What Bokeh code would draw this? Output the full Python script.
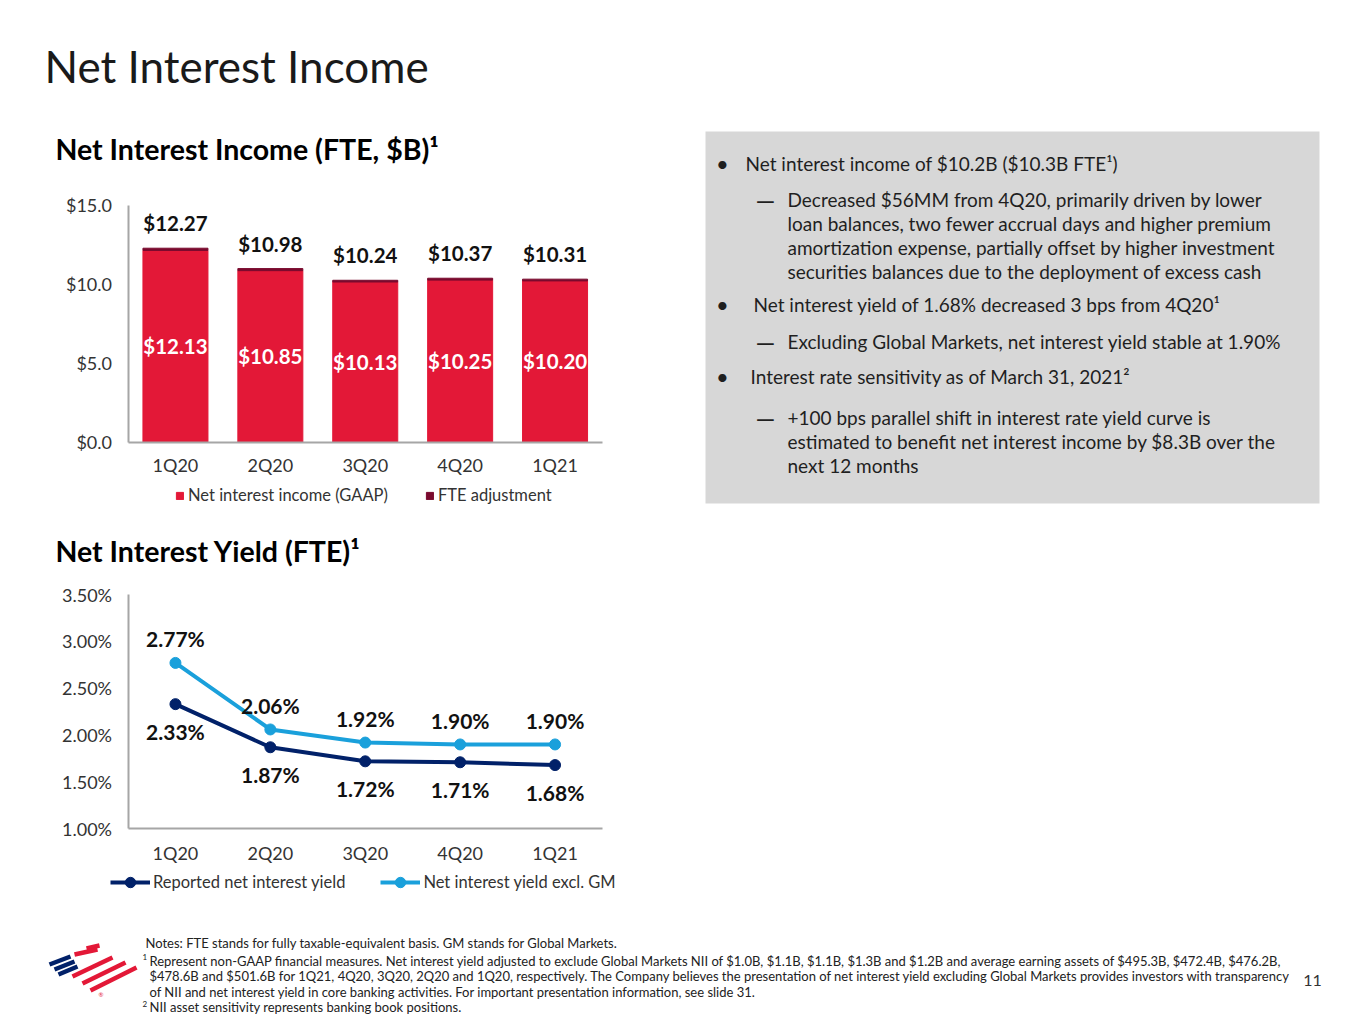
from bokeh.plotting import figure
from bokeh.models import (ColumnDataSource, Range1d, FixedTicker, Legend, LegendItem,
                          LinearAxis)
from bokeh.embed import file_html
from bokeh.resources import INLINE
from bokeh.core.properties import value

# ---------------- data ----------------
quarters = ["1Q20", "2Q20", "3Q20", "4Q20", "1Q21"]
nii_gaap = [12.13, 10.85, 10.13, 10.25, 10.20]
fte_adjustment = [0.14, 0.13, 0.11, 0.12, 0.11]
nii_fte_total = [12.27, 10.98, 10.24, 10.37, 10.31]
bar_ticks = [0, 5, 10, 15]
bar_tick_labels = ["$0.0", "$5.0", "$10.0", "$15.0"]

yield_reported = [2.33, 1.87, 1.72, 1.71, 1.68]
yield_excl_gm = [2.77, 2.06, 1.92, 1.90, 1.90]
yield_ticks = [1.0, 1.5, 2.0, 2.5, 3.0, 3.5]
yield_tick_labels = ["1.00%", "1.50%", "2.00%", "2.50%", "3.00%", "3.50%"]

box_lines = [
    ("•", "b1", "Net interest income of $10.2B ($10.3B FTE¹)"),
    ("—", "d", "Decreased $56MM from 4Q20, primarily driven by lower"),
    ("", "d", "loan balances, two fewer accrual days and higher premium"),
    ("", "d", "amortization expense, partially offset by higher investment"),
    ("", "d", "securities balances due to the deployment of excess cash"),
    ("•", "b2", "Net interest yield of 1.68% decreased 3 bps from 4Q20¹"),
    ("—", "d", "Excluding Global Markets, net interest yield stable at 1.90%"),
    ("•", "b3", "Interest rate sensitivity as of March 31, 2021²"),
    ("—", "d", "+100 bps parallel shift in interest rate yield curve is"),
    ("", "d", "estimated to benefit net interest income by $8.3B over the"),
    ("", "d", "next 12 months"),
]

notes_lines = [
    "Notes: FTE stands for fully taxable-equivalent basis. GM stands for Global Markets.",
    "Represent non-GAAP financial measures. Net interest yield adjusted to exclude Global Markets NII of $1.0B, $1.1B, $1.1B, $1.3B and $1.2B and average earning assets of $495.3B, $472.4B, $476.2B,",
    "$478.6B and $501.6B for 1Q21, 4Q20, 3Q20, 2Q20 and 1Q20, respectively. The Company believes the presentation of net interest yield excluding Global Markets provides investors with transparency",
    "of NII and net interest yield in core banking activities. For important presentation information, see slide 31.",
    "NII asset sensitivity represents banking book positions.",
]

# ---------------- style ----------------
FONT = "Lato"
RED = "#E31837"
MAROON = "#7A0A2E"
NAVY = "#012169"
LIGHT = "#1AA0DB"
AXIS = "#A6A6A6"
TICK = "#333333"
DARK = "#111111"
BODY = "#1f1f1f"
BOX = "#D7D7D7"

W, H = 1363, 1020

p = figure(width=W, height=H, x_range=Range1d(0, W), y_range=Range1d(H, 0),
           x_axis_location=None, y_axis_location=None, toolbar_location=None,
           output_backend="svg", min_border=0)
p.grid.visible = False
p.outline_line_color = None


def xmap(px0, v0, px1, v1):
    k = (px1 - px0) / (v1 - v0)
    start = v0 - px0 / k
    return Range1d(start, start + W / k)


def ymap(py0, v0, py1, v1):
    k = (py0 - py1) / (v1 - v0)
    start = v0 - (H - py0) / k
    return Range1d(start, start + H / k)


# chart placement on the page (pixels)
p.extra_x_ranges = {"bx": xmap(127.5, -0.5, 602, 4.5), "lx": xmap(127.5, -0.5, 602, 4.5)}
p.extra_y_ranges = {"by": ymap(441.5, 0, 204.6, 15), "ly": ymap(828.3, 1.0, 594, 3.5)}


def txt(x, y, s, size, bold=False, color=DARK, align="left"):
    p.text(x=[x], y=[y], text=[s], text_font=value(FONT), text_font_size=f"{size}px",
           text_font_style="bold" if bold else "normal", text_color=color,
           text_align=align, text_baseline="middle")


def add_axes(xr, yr, xfix, yfix, yticks, ylabels, xstandoff):
    xi = list(range(len(quarters)))
    yax = LinearAxis(y_range_name=yr, fixed_location=yfix,
                     bounds=(yticks[0], yticks[-1]), ticker=FixedTicker(ticks=yticks),
                     major_label_overrides={t: l for t, l in zip(yticks, ylabels)})
    xax = LinearAxis(x_range_name=xr, fixed_location=xfix,
                     bounds=(-0.5, len(quarters) - 0.5), ticker=FixedTicker(ticks=xi),
                     major_label_overrides={i: q for i, q in zip(xi, quarters)})
    for ax in (yax, xax):
        ax.axis_line_color = AXIS
        ax.axis_line_width = 2
        ax.major_tick_line_color = None
        ax.minor_tick_line_color = None
        ax.major_tick_out = 0
        ax.major_tick_in = 0
        ax.major_label_text_font = FONT
        ax.major_label_text_font_size = "18px"
        ax.major_label_text_color = TICK
    yax.major_label_standoff = 16
    xax.major_label_standoff = xstandoff
    p.add_layout(yax, "left")
    p.add_layout(xax, "below")


# ---------------- titles ----------------
txt(44, 65, "Net Interest Income", 44, color="#1a1a1a")
txt(55, 148, "Net Interest Income (FTE, $B)¹", 28.5, bold=True, color="#000000")
txt(55, 550, "Net Interest Yield (FTE)¹", 28.5, bold=True, color="#000000")

# ---------------- bar chart ----------------
xi = list(range(len(quarters)))
src1 = ColumnDataSource(dict(x=xi, gaap=nii_gaap, fte=fte_adjustment))
bars = p.vbar_stack(["gaap", "fte"], x="x", width=0.685, color=[RED, MAROON], source=src1,
                    x_range_name="bx", y_range_name="by")
p.text(x=xi, y=nii_fte_total, text=[f"${v:.2f}" for v in nii_fte_total],
       x_range_name="bx", y_range_name="by",
       text_font=value(FONT), text_font_size="20.5px", text_font_style="bold",
       text_color=DARK, text_align="center", text_baseline="middle", y_offset=-25)
p.text(x=xi, y=[v / 2 for v in nii_gaap], text=[f"${v:.2f}" for v in nii_gaap],
       x_range_name="bx", y_range_name="by",
       text_font=value(FONT), text_font_size="20.5px", text_font_style="bold",
       text_color="#FFFFFF", text_align="center", text_baseline="middle")
add_axes("bx", "by", 441.5, 127.5, bar_ticks, bar_tick_labels, 12)
leg1 = Legend(items=[LegendItem(label="Net interest income (GAAP)", renderers=[bars[0]]),
                     LegendItem(label="FTE adjustment", renderers=[bars[1]])],
              orientation="horizontal", location=(175, H - 505), spacing=37,
              glyph_width=9, glyph_height=9, label_standoff=4, padding=7, margin=0,
              border_line_color=None, background_fill_alpha=0,
              label_text_font=FONT, label_text_font_size="16.5px", label_text_color=TICK)
p.add_layout(leg1, "center")

# ---------------- line chart ----------------
l_rep = p.line(xi, yield_reported, line_width=4, color=NAVY, x_range_name="lx", y_range_name="ly")
s_rep = p.scatter(xi, yield_reported, size=11, color=NAVY, x_range_name="lx", y_range_name="ly")
l_gm = p.line(xi, yield_excl_gm, line_width=4, color=LIGHT, x_range_name="lx", y_range_name="ly")
s_gm = p.scatter(xi, yield_excl_gm, size=11, color=LIGHT, x_range_name="lx", y_range_name="ly")
p.text(x=xi, y=yield_excl_gm, text=[f"{v:.2f}%" for v in yield_excl_gm],
       x_range_name="lx", y_range_name="ly",
       text_font=value(FONT), text_font_size="21px", text_font_style="bold",
       text_color=DARK, text_align="center", text_baseline="middle", y_offset=-24)
p.text(x=xi, y=yield_reported, text=[f"{v:.2f}%" for v in yield_reported],
       x_range_name="lx", y_range_name="ly",
       text_font=value(FONT), text_font_size="21px", text_font_style="bold",
       text_color=DARK, text_align="center", text_baseline="middle", y_offset=27)
add_axes("lx", "ly", 828.3, 127.5, yield_ticks, yield_tick_labels, 13)
leg2 = Legend(items=[LegendItem(label="Reported net interest yield", renderers=[l_rep, s_rep]),
                     LegendItem(label="Net interest yield excl. GM", renderers=[l_gm, s_gm])],
              orientation="horizontal", location=(110, H - 895), spacing=35,
              glyph_width=40, glyph_height=26, label_standoff=3, padding=4, margin=0,
              border_line_color=None, background_fill_alpha=0,
              label_text_font=FONT, label_text_font_size="16.5px", label_text_color=TICK)
p.add_layout(leg2, "center")

# ---------------- right text box ----------------
p.quad(left=[705], right=[1319], top=[131], bottom=[503], fill_color=BOX, line_color=None)
box_y = [163, 199, 223, 247, 271, 304, 341, 376, 417, 441, 465]
text_x = {"b1": 745, "b2": 753, "b3": 750, "d": 787}
for (mark, kind, s), y in zip(box_lines, box_y):
    if mark == "•":
        txt(722, y, mark, 22, color=BODY, align="center")
    elif mark == "—":
        txt(755, y, mark, 25, color=BODY)
    txt(text_x[kind], y, s, 19, color=BODY)

# ---------------- footer ----------------
notes_y = [942, 960, 975, 991, 1006]
notes_x = [145, 149, 149, 149, 149]
for s, x, y in zip(notes_lines, notes_x, notes_y):
    txt(x, y, s, 13, color="#222222")
txt(142, 956, "1", 8, color="#222222")
txt(142, 1003, "2", 8, color="#222222")
txt(1312, 980, "11", 16, color="#333333", align="center")

# logo (decorative flag)
p.multi_line(xs=[[49, 70], [54, 74], [58, 77]], ys=[[964, 956], [969, 961], [974, 966]],
             line_color=NAVY, line_width=4.5)
p.multi_line(xs=[[86, 99], [74, 97], [72, 112], [82, 125], [90, 136]],
             ys=[[948, 945], [954, 949], [976, 957], [983, 962], [990, 967]],
             line_color=RED, line_width=4.5)
txt(98, 994, "®", 6, color=RED)

open("out.html", "w").write(file_html(p, INLINE))
